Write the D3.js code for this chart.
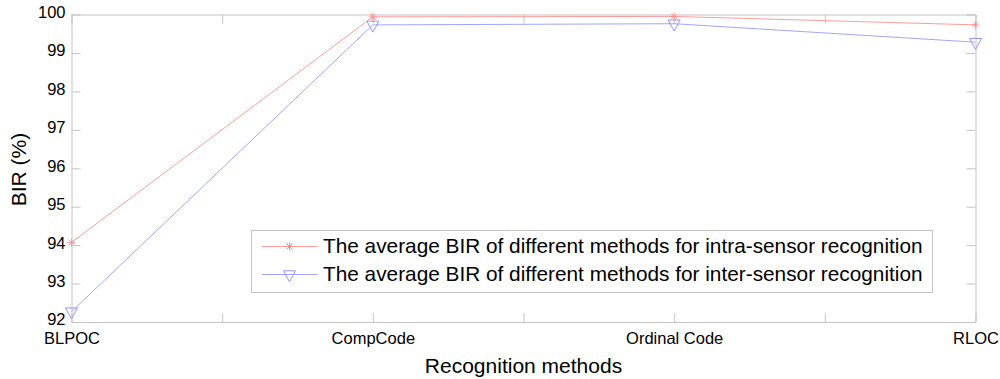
<!DOCTYPE html>
<html>
<head>
<meta charset="utf-8">
<script src="https://cdn.jsdelivr.net/npm/d3@7"></script>
<style>
  body { margin: 0; background: #fff; }
  svg { display: block; font-family: "Liberation Sans", Arial, sans-serif; }
</style>
</head>
<body>
<script>
/* data */
var methods = ["BLPOC", "CompCode", "Ordinal Code", "RLOC"];
var intraBIR = [94.07, 99.94, 99.95, 99.73];
var interBIR = [92.27, 99.73, 99.76, 99.28];
var legendLabels = [
  "The average BIR of different methods for intra-sensor recognition",
  "The average BIR of different methods for inter-sensor recognition"
];
var xTicks = [1, 1.5, 2, 2.5, 3, 3.5, 4];
var yTicks = [92, 93, 94, 95, 96, 97, 98, 99, 100];

var W = 1000, H = 379;
var margin = {left: 71.5, top: 14.5, right: 24.5, bottom: 57};
var plotW = W - margin.left - margin.right;
var plotH = H - margin.top - margin.bottom;

var axisColor = "#c4c4c4";
var redLine = "#ff9c9c", redMark = "#ff8a8a";
var blueLine = "#a4a4ff", blueMark = "#9696ff";

var svg = d3.select("body").append("svg")
  .attr("width", W)
  .attr("height", H);

var g = svg.append("g")
  .attr("transform", "translate(" + margin.left + "," + margin.top + ")");

var x = d3.scaleLinear().domain([1, 4]).range([0, plotW]);
var y = d3.scaleLinear().domain([92, 100]).range([plotH, 0]);

/* axes: ticks pointing inside, mirrored on top and right */
var xLabel = function (d) {
  return Number.isInteger(d) ? methods[d - 1] : "";
};

var xAxisB = d3.axisBottom(x).tickValues(xTicks).tickFormat(xLabel)
  .tickSizeInner(-9).tickSizeOuter(0).tickPadding(10);
var xAxisT = d3.axisTop(x).tickValues(xTicks).tickFormat("")
  .tickSizeInner(-9).tickSizeOuter(0);
var yAxisL = d3.axisLeft(y).tickValues(yTicks)
  .tickSizeInner(-9).tickSizeOuter(0).tickPadding(6);
var yAxisR = d3.axisRight(y).tickValues(yTicks).tickFormat("")
  .tickSizeInner(-9).tickSizeOuter(0);

var gxB = g.append("g").attr("transform", "translate(0," + plotH + ")").call(xAxisB);
var gxT = g.append("g").call(xAxisT);
var gyL = g.append("g").call(yAxisL);
var gyR = g.append("g").attr("transform", "translate(" + plotW + ",0)").call(yAxisR);

[gxB, gxT, gyL, gyR].forEach(function (a) {
  a.select(".domain").attr("stroke", axisColor);
  a.selectAll(".tick line").attr("stroke", axisColor);
  a.selectAll(".tick text").attr("fill", "#000").style("font-size", "16.5px");
});
gyL.selectAll(".tick text").attr("dy", "0.18em");

/* axis titles */
svg.append("text")
  .attr("x", margin.left + plotW / 2)
  .attr("y", 373)
  .attr("text-anchor", "middle")
  .style("font-size", "21px")
  .text("Recognition methods");

svg.append("text")
  .attr("transform", "translate(26," + (margin.top + 155) + ") rotate(-90)")
  .attr("text-anchor", "middle")
  .style("font-size", "21px")
  .text("BIR (%)");

/* lines */
var line = d3.line()
  .x(function (d, i) { return x(i + 1); })
  .y(function (d) { return y(d); });

g.append("path").datum(intraBIR)
  .attr("d", line).attr("fill", "none")
  .attr("stroke", redLine).attr("stroke-width", 1);

g.append("path").datum(interBIR)
  .attr("d", line).attr("fill", "none")
  .attr("stroke", blueLine).attr("stroke-width", 1);

/* markers */
var starPath = "M-4,0L4,0M0,-4L0,4M-3,-3L3,3M-3,3L3,-3";
var triPath = "M-6,-3.7L6,-3.7L0,7.3Z";

g.selectAll(".star").data(intraBIR).enter().append("path")
  .attr("class", "star")
  .attr("transform", function (d, i) { return "translate(" + x(i + 1) + "," + y(d) + ")"; })
  .attr("d", starPath)
  .attr("fill", "none").attr("stroke", redMark).attr("stroke-width", 0.8);

g.selectAll(".tri").data(interBIR).enter().append("path")
  .attr("class", "tri")
  .attr("transform", function (d, i) { return "translate(" + x(i + 1) + "," + y(d) + ")"; })
  .attr("d", triPath)
  .attr("fill", "none").attr("stroke", blueMark).attr("stroke-width", 1);

/* legend */
var legend = svg.append("g");
legend.append("rect")
  .attr("x", 251.5).attr("y", 230.5)
  .attr("width", 681).attr("height", 62)
  .attr("fill", "#fff").attr("stroke", axisColor);

var legendRows = [
  {label: legendLabels[0], lc: redLine, mc: redMark, mark: starPath, y: 246},
  {label: legendLabels[1], lc: blueLine, mc: blueMark, mark: triPath, y: 274}
];

legendRows.forEach(function (r) {
  legend.append("line")
    .attr("x1", 262).attr("x2", 317)
    .attr("y1", r.y + 0.5).attr("y2", r.y + 0.5)
    .attr("stroke", r.lc);
  legend.append("path")
    .attr("transform", "translate(289.5," + (r.y + 0.5) + ")")
    .attr("d", r.mark)
    .attr("fill", "none").attr("stroke", r.mc);
  legend.append("text")
    .attr("x", 323).attr("y", r.y)
    .attr("dy", "0.35em")
    .style("font-size", "20.8px")
    .text(r.label);
});
</script>
</body>
</html>
